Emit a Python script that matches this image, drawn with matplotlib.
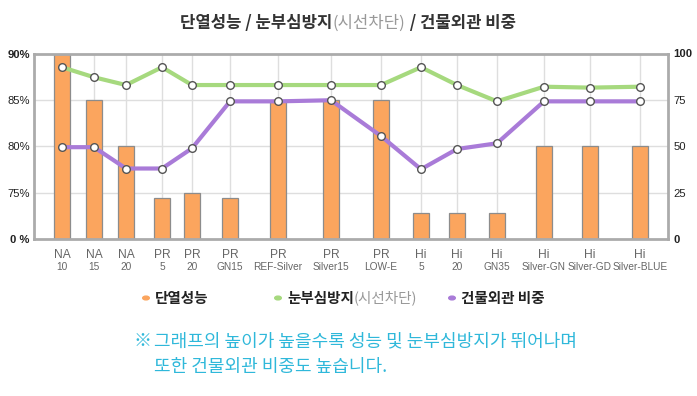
import numpy as np
import matplotlib
matplotlib.use("Agg")
import matplotlib.pyplot as plt
from matplotlib import font_manager
from matplotlib.transforms import blended_transform_factory

plt.rcParams['font.family'] = ['Noto Sans CJK KR', 'DejaVu Sans']

# data
groups = ["NA", "NA", "NA", "PR", "PR", "PR", "PR", "PR", "PR",
          "Hi", "Hi", "Hi", "Hi", "Hi", "Hi"]
subs = ["10", "15", "20", "5", "20", "GN15", "REF-Silver", "Silver15", "LOW-E",
        "5", "20", "GN35", "Silver-GN", "Silver-GD", "Silver-BLUE"]
insulation = [100, 75, 50, 22, 25, 22, 75, 75, 75, 14, 14, 14, 50, 50, 50]
glare = [92.6, 87.2, 83, 92.6, 83, 83, 83, 83, 83, 92.6, 83, 74.2, 82.1, 81.6, 82.1]
facade = [49.5, 49.5, 38, 38, 48.9, 74.2, 74.2, 74.8, 55.5, 37.6, 48.5, 51.6, 74.2, 74.2, 74.2]
left_labels = ["0 %", "75%", "80%", "85%", "90%"]
right_labels = ["0", "25", "50", "75", "100"]
yticks = [0, 25, 50, 75, 100]

# category placement (uneven, like the original)
xpos = np.array([62, 94, 126, 162, 192, 230, 278, 331, 381,
                 421, 457, 497, 544, 590, 640])

c_bar = '#FBA55E'
c_green = '#A6D97E'
c_purple = '#A97BD8'
c_grid = '#DEDEDE'

# narrow font for the axis labels if there is one
try:
    font_manager.findfont('Liberation Sans Narrow', fallback_to_default=False)
    narrow = ['Liberation Sans Narrow', 'DejaVu Sans']
    nscale = 1.0
except Exception:
    narrow = ['Liberation Sans', 'DejaVu Sans']
    nscale = 0.85

fig = plt.figure(figsize=(6.97, 3.96), dpi=100)
ax = fig.add_axes([34 / 697, 1 - 239 / 396, 634 / 697, 185.5 / 396])
ax.set_xlim(34, 668)
ax.set_ylim(0, 100)

for x in xpos:
    ax.axvline(x, color=c_grid, lw=1, zorder=0)
for y in yticks[1:-1]:
    ax.axhline(y, color=c_grid, lw=1, zorder=0)

ax.bar(xpos, insulation, width=16, color=c_bar, edgecolor='#8c8c8c', lw=0.9, zorder=2)
ax.plot(xpos, glare, color=c_green, lw=3, zorder=3,
        marker='o', ms=5.5, mfc='white', mec='#555555', mew=1.0)
ax.plot(xpos, facade, color=c_purple, lw=3, zorder=3,
        marker='o', ms=5.5, mfc='white', mec='#555555', mew=1.0)

for s in ax.spines.values():
    s.set_color('#ababab')
    s.set_linewidth(2)

ax.set_xticks([])
ax.set_yticks(yticks)
ax.set_yticklabels(left_labels, fontsize=9.5 * nscale, color='#222222', family=narrow)
ax.tick_params(axis='y', length=0, pad=3)
for i in (0, len(yticks) - 1):
    ax.get_yticklabels()[i].set_fontweight('bold')

ax2 = ax.twinx()
ax2.set_ylim(0, 100)
ax2.set_yticks(yticks)
ax2.set_yticklabels(right_labels, fontsize=9.5 * nscale, color='#222222', family=narrow)
ax2.tick_params(axis='y', length=0, pad=4)
for i in (0, len(yticks) - 1):
    ax2.get_yticklabels()[i].set_fontweight('bold')
for s in ax2.spines.values():
    s.set_visible(False)

# two-line category labels
trans = blended_transform_factory(ax.transData, fig.transFigure)
for x, g, sb in zip(xpos, groups, subs):
    ax.text(x, 1 - 255 / 396, g, transform=trans, ha='center', va='center',
            fontsize=10.2 * nscale, color='#666666', family=narrow)
    ax.text(x, 1 - 267 / 396, sb, transform=trans, ha='center', va='center',
            fontsize=8.6 * nscale, color='#666666', family=narrow)

renderer = fig.canvas.get_renderer()


def chain(x0, y, pieces, size, center=False):
    # put text pieces one after the other on a line
    arts = []
    x = x0
    for txt, col, wt in pieces:
        t = fig.text(x, y, txt, ha='left', va='center', fontsize=size,
                     color=col, fontweight=wt)
        w = t.get_window_extent(renderer).width / fig.bbox.width
        arts.append((t, w))
        x += w
    if center:
        total = x - x0
        shift = x0 - total / 2 - x0
        for t, w in arts:
            px, py = t.get_position()
            t.set_position((px + shift, py))


# title
chain(348 / 697, 1 - 23 / 396,
      [("단열성능 / 눈부심방지", '#333333', 'bold'),
       ("(시선차단)", '#999999', 'normal'),
       (" / 건물외관 비중", '#333333', 'bold')], 12, center=True)

# legend
ly = 1 - 298 / 396
for mx, col in [(146, c_bar), (278, c_green), (452, c_purple)]:
    fig.patches.append(plt.Circle((mx / 697, ly), 3.3 / 697, color=col,
                                  transform=fig.transFigure, figure=fig))
chain(155 / 697, ly, [("단열성능", '#222222', 'bold')], 10.5)
chain(287 / 697, ly, [("눈부심방지", '#222222', 'bold'),
                      ("(시선차단)", '#999999', 'normal')], 10.5)
chain(461 / 697, ly, [("건물외관 비중", '#222222', 'bold')], 10.5)

# note
c_note = '#2FB8DA'
fig.text(133 / 697, 1 - 341 / 396, "※", ha='left', va='center', fontsize=13, color=c_note)
fig.text(154 / 697, 1 - 341 / 396, "그래프의 높이가 높을수록 성능 및 눈부심방지가 뛰어나며",
         ha='left', va='center', fontsize=13, color=c_note)
fig.text(154 / 697, 1 - 367 / 396, "또한 건물외관 비중도 높습니다.",
         ha='left', va='center', fontsize=13, color=c_note)

plt.savefig('out.png', dpi=100)
